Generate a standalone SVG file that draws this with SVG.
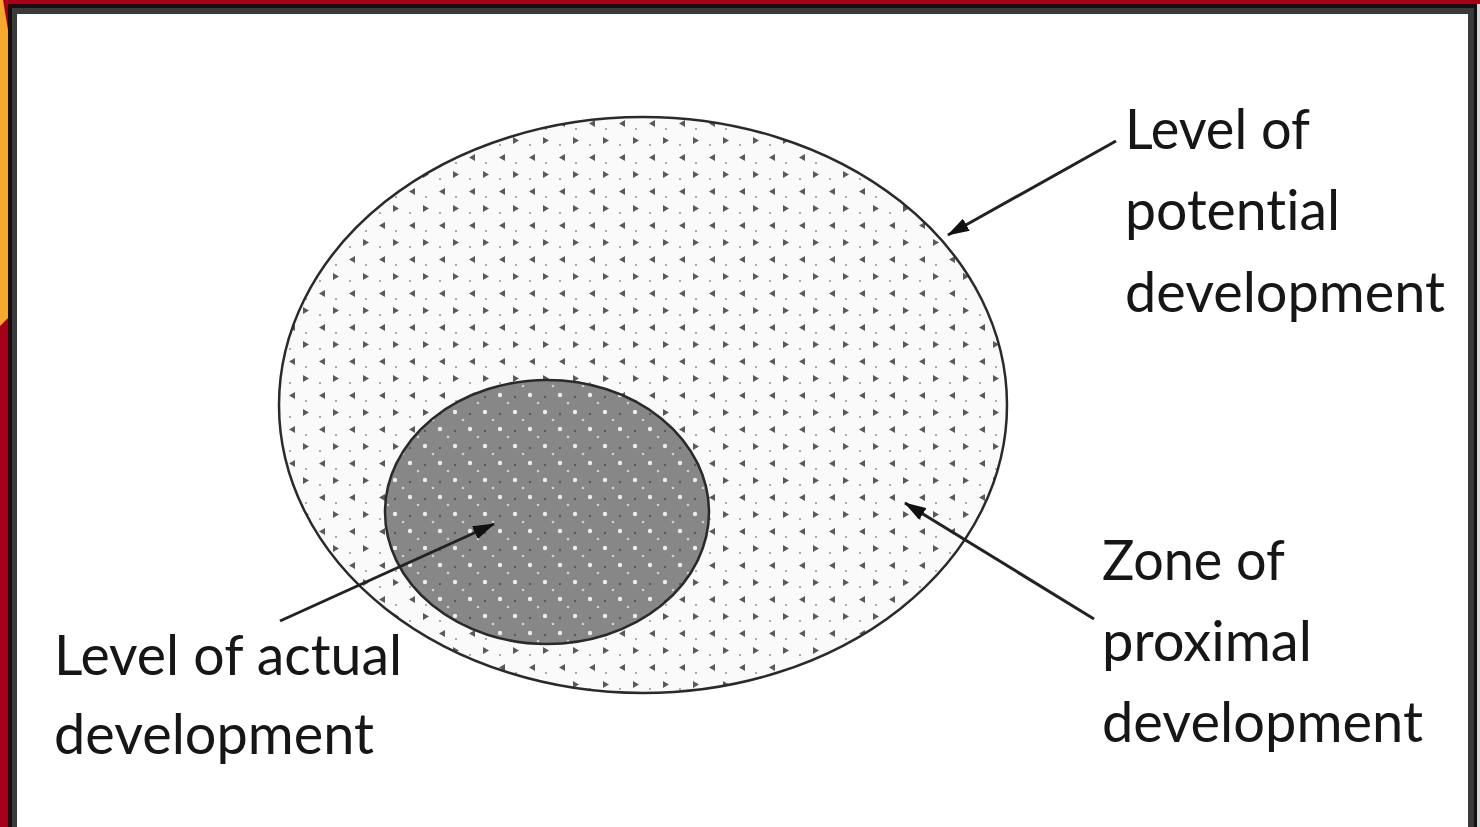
<svg xmlns="http://www.w3.org/2000/svg" width="1480" height="827" viewBox="0 0 1480 827">
  <style>
    .lbl { font-family: Lato, "Liberation Sans", sans-serif; font-size: 57px; fill: #161616; font-variant-ligatures: none; font-feature-settings: "liga" 0; }
    .conn { stroke: #222; stroke-width: 3; fill: none; marker-end: url(#arrow); }
  </style>
  <defs>
    <marker id="arrow" viewBox="0 0 22 14" refX="21" refY="7" markerWidth="22" markerHeight="14" orient="auto" markerUnits="userSpaceOnUse">
      <path d="M0,0 L22,7 L0,14 Z" fill="#111"/>
    </marker>
    <pattern id="stipple" width="30" height="34" patternUnits="userSpaceOnUse">
      <rect width="30" height="34" fill="#fafafa"/>
      <path d="M3,1 L9,4.5 L3,8 Z" fill="#5a5a5a"/>
      <path d="M25,18 L19,21.5 L25,25 Z" fill="#5a5a5a"/>
      <circle cx="20" cy="9" r="1.1" fill="#9a9a9a"/>
      <circle cx="6" cy="27" r="1.1" fill="#9a9a9a"/>
    </pattern>
    <pattern id="dense" width="30" height="34" patternUnits="userSpaceOnUse">
      <rect width="30" height="34" fill="#878787"/>
      <circle cx="5" cy="4" r="2.2" fill="#ececec"/>
      <circle cx="20" cy="21" r="2.2" fill="#ececec"/>
      <circle cx="13" cy="12" r="1.3" fill="#d0d0d0"/>
      <circle cx="28" cy="29" r="1.3" fill="#d0d0d0"/>
      <circle cx="20" cy="6" r="1.2" fill="#5a5a5a"/>
      <circle cx="5" cy="23" r="1.2" fill="#5a5a5a"/>
    </pattern>
  </defs>

  <!-- frame -->
  <rect x="0" y="0" width="1480" height="827" fill="#a4001a"/>
  <path d="M0,0 L3,0 L8,30 L8,318 L0,326 Z" fill="#f4aa2c"/>
  <rect x="8" y="4" width="1470" height="823" fill="#111"/>
  <rect x="12" y="8" width="1462" height="819" fill="#3a3a3a"/>
  <rect x="17" y="14" width="1451" height="813" fill="#ffffff"/>
  <rect x="1477" y="4" width="3" height="823" fill="#d8d8d8"/>

  <g id="potential-zone">
    <ellipse cx="643" cy="405" rx="364" ry="288" fill="url(#stipple)" stroke="#2a2a2a" stroke-width="2.5"/>
  </g>
  <g id="actual-level">
    <ellipse cx="547" cy="512" rx="162" ry="132" fill="url(#dense)" stroke="#2a2a2a" stroke-width="2.5"/>
  </g>

  <g id="connectors">
    <line class="conn" x1="1116" y1="141" x2="948" y2="235"/>
    <line class="conn" x1="1094" y1="619" x2="905" y2="503"/>
    <line class="conn" x1="280" y1="621" x2="494" y2="524"/>
  </g>

  <g id="label-potential">
    <text class="lbl" x="1125" y="149" textLength="185" lengthAdjust="spacingAndGlyphs">Level of</text>
    <text class="lbl" x="1125" y="230" textLength="215" lengthAdjust="spacingAndGlyphs">potential</text>
    <text class="lbl" x="1125" y="312" textLength="320" lengthAdjust="spacingAndGlyphs">development</text>
  </g>
  <g id="label-zpd">
    <text class="lbl" x="1102" y="580" textLength="183" lengthAdjust="spacingAndGlyphs">Zone of</text>
    <text class="lbl" x="1102" y="661" textLength="210" lengthAdjust="spacingAndGlyphs">proximal</text>
    <text class="lbl" x="1102" y="742" textLength="321" lengthAdjust="spacingAndGlyphs">development</text>
  </g>
  <g id="label-actual">
    <text class="lbl" x="54" y="675" textLength="348" lengthAdjust="spacingAndGlyphs">Level of actual</text>
    <text class="lbl" x="54" y="754" textLength="320" lengthAdjust="spacingAndGlyphs">development</text>
  </g>
</svg>
